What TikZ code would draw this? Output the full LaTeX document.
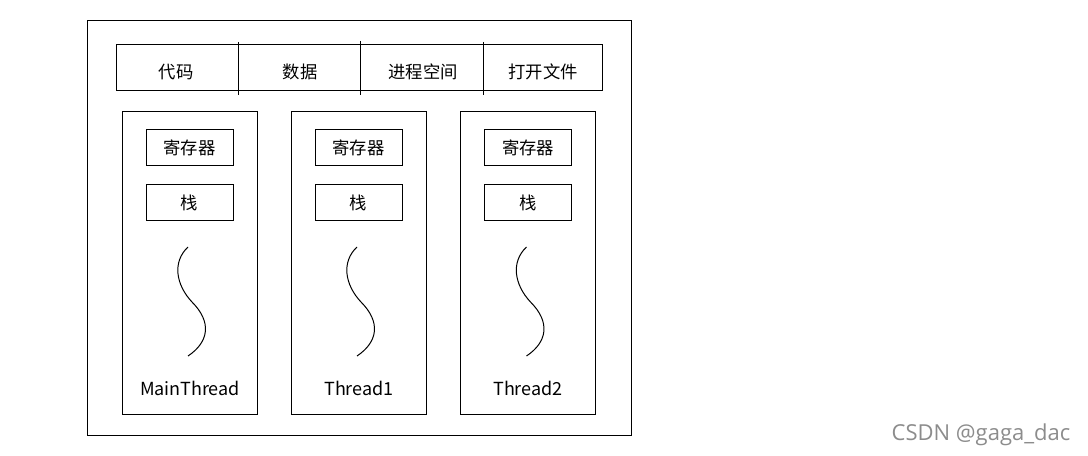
\documentclass[tikz,border=0pt]{standalone}
\usepackage{fontspec}
\setmainfont{Noto Sans CJK SC}
\newfontfamily\markfont{Open Sans}
\begin{document}
\begin{tikzpicture}[x=0.75pt,y=-0.75pt,
  box/.style={draw, line width=0.75pt, inner sep=0pt},
  word/.style={font=\fontsize{13}{15}\selectfont},
  threadname/.style={font=\fontsize{13.5}{15}\selectfont},
  regbox/.style={box, minimum width=65.25pt, minimum height=27pt, word},
  thbox/.style={box, minimum width=101.25pt, minimum height=226.5pt},
  wave/.style={line width=0.75pt}]
\useasboundingbox (0,0) rectangle (1088,456);
\node[box, minimum width=408pt, minimum height=310.5pt] (proc) at (359,228) {};
% shared resources
\node[box, minimum width=364.5pt, minimum height=34.5pt] (bar) at (359,68) {};
\node[word] (code) at (176,72) {代码};
\node[word] (data) at (300,72) {数据};
\node[word] (space) at (423,72) {进程空间};
\node[word] (files) at (543,72) {打开文件};
\draw[line width=0.75pt] (238,42) -- (238,95);
\draw[line width=0.75pt] (360,41) -- (360,95);
\draw[line width=0.75pt] (483,42) -- (483,95);
% threads
\node[thbox] (main) at (189.5,263) {};
\node[regbox] (mainreg) at (189.5,148) {寄存器};
\node[regbox] (mainstk) at (189.5,202.5) {栈};
\node[threadname] (mainname) at (190,388) {MainThread};
\draw[wave] (188,247) .. controls (172,262) and (176,285) .. (192,302) .. controls (212,322) and (209,342) .. (188,356);
\node[thbox] (one) at (358.5,263) {};
\node[regbox] (onereg) at (358.5,148) {寄存器};
\node[regbox] (onestk) at (358.5,202.5) {栈};
\node[threadname] (onename) at (359,388) {Thread1};
\draw[wave] (357,247) .. controls (341,262) and (345,285) .. (361,302) .. controls (381,322) and (378,342) .. (357,356);
\node[thbox] (two) at (528,263) {};
\node[regbox] (tworeg) at (528,148) {寄存器};
\node[regbox] (twostk) at (528,202.5) {栈};
\node[threadname] (twoname) at (528,388) {Thread2};
\draw[wave] (526.5,247) .. controls (510.5,262) and (514.5,285) .. (530.5,302) .. controls (550.5,322) and (547.5,342) .. (526.5,356);
\node[font=\markfont\fontsize{16.5}{18}\selectfont, text=black!45] (mark) at (981,435) {CSDN @gaga\_dac};
\end{tikzpicture}
\end{document}
